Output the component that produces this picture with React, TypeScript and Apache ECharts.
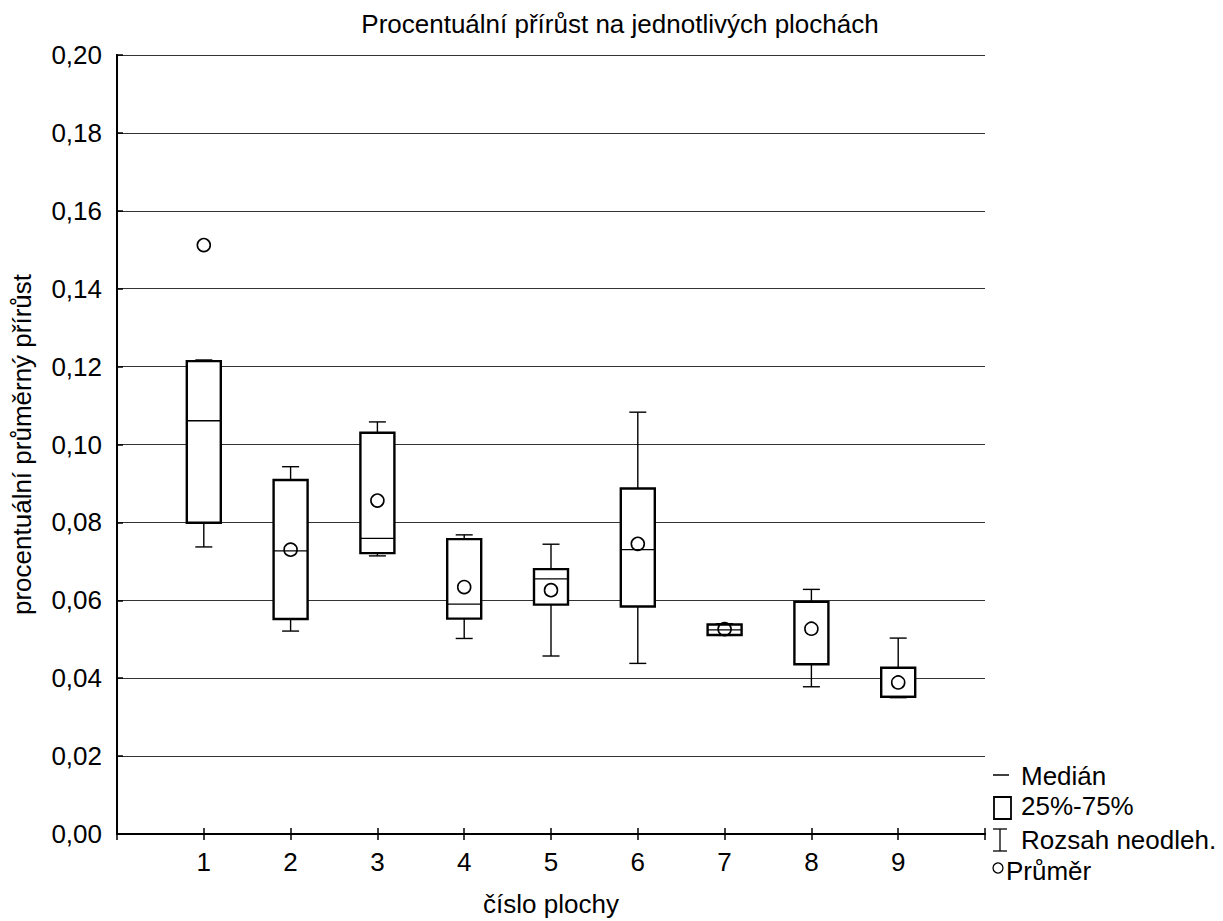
import React, { useEffect, useRef } from "react";
import * as echarts from "echarts";

const categories = [1, 2, 3, 4, 5, 6, 7, 8, 9];
const minValues = [0.0737, 0.0521, 0.0714, 0.0502, 0.0457, 0.0438, 0.0510, 0.0378, 0.0350];
const q1Values = [0.0799, 0.0552, 0.0721, 0.0553, 0.0589, 0.0584, 0.0511, 0.0436, 0.0352];
const medianValues = [0.1061, 0.0727, 0.0759, 0.0590, 0.0655, 0.0730, 0.0524, 0.0436, 0.0353];
const q3Values = [0.1214, 0.0909, 0.1030, 0.0757, 0.0680, 0.0887, 0.0538, 0.0596, 0.0427];
const maxValues = [0.1217, 0.0943, 0.1058, 0.0768, 0.0744, 0.1083, 0.0540, 0.0628, 0.0503];
const meanValues = [0.1512, 0.0730, 0.0856, 0.0634, 0.0626, 0.0745, 0.0526, 0.0527, 0.0389];

const titleText = "Procentuální přírůst na jednotlivých plochách";
const xName = "číslo plochy";
const yName = "procentuální průměrný přírůst";
const legendLabels = ["Medián", "25%-75%", "Rozsah neodleh.", "Průměr"];

const FONT = "'Liberation Sans', Arial, sans-serif";
const FS = 26;

export default function App() {
  const ref = useRef<HTMLDivElement>(null);
  useEffect(() => {
    if (!ref.current) return;
    const chart = echarts.init(ref.current, undefined, { renderer: "svg" });
    const boxData = categories.map((c, i) => [
      c,
      minValues[i],
      q1Values[i],
      medianValues[i],
      q3Values[i],
      maxValues[i],
    ]);
    const meanData = categories.map((c, i) => [c, meanValues[i]]);
    const option: any = {
      animation: false,
      backgroundColor: "#fff",
      textStyle: { fontFamily: FONT, color: "#000" },
      title: {
        text: titleText,
        left: 615,
        top: 6,
        textAlign: "center",
        textStyle: { fontFamily: FONT, fontSize: FS, fontWeight: "normal", color: "#000" },
      },
      grid: { left: 117, top: 55, right: 238, bottom: 87, containLabel: false },
      xAxis: [
        {
          type: "value",
          min: 0,
          max: 10,
          interval: 1,
          position: "bottom",
          axisLine: { show: true, lineStyle: { color: "#000", width: 2 } },
          axisTick: { show: true, inside: true, length: 6, lineStyle: { color: "#000", width: 1.5 } },
          axisLabel: {
            fontFamily: FONT,
            fontSize: FS,
            color: "#000",
            margin: 15,
            formatter: (v: number) => (categories.indexOf(v) >= 0 ? String(v) : ""),
          },
          splitLine: { show: false },
        },
        {
          type: "value",
          min: 0,
          max: 10,
          interval: 1,
          position: "top",
          axisLine: { show: true, lineStyle: { color: "#000", width: 2 } },
          axisTick: { show: true, inside: true, length: 6, lineStyle: { color: "#000", width: 1.5 } },
          axisLabel: { show: false },
          splitLine: { show: false },
        },
      ],
      yAxis: [
        {
          type: "value",
          min: 0,
          max: 0.2,
          interval: 0.02,
          position: "left",
          name: yName,
          nameLocation: "middle",
          nameGap: 82,
          nameTextStyle: { fontFamily: FONT, fontSize: FS, color: "#000" },
          axisLine: { show: true, lineStyle: { color: "#000", width: 2 } },
          axisTick: { show: true, inside: true, length: 6, lineStyle: { color: "#000", width: 1.5 } },
          axisLabel: {
            fontFamily: FONT,
            fontSize: FS,
            color: "#000",
            margin: 15,
            formatter: (v: number) => v.toFixed(2).replace(".", ","),
          },
          splitLine: { show: true, lineStyle: { color: "#333", width: 1 } },
        },
        {
          type: "value",
          min: 0,
          max: 0.2,
          interval: 0.02,
          position: "right",
          axisLine: { show: true, lineStyle: { color: "#000", width: 2 } },
          axisTick: { show: false },
          axisLabel: { show: false },
          splitLine: { show: false },
        },
      ],
      series: [
        {
          type: "custom",
          xAxisIndex: 0,
          yAxisIndex: 0,
          data: boxData,
          encode: { x: 0, y: [1, 2, 3, 4, 5] },
          renderItem: (params: any, api: any) => {
            const x = api.value(0);
            const pMin = api.coord([x, api.value(1)]);
            const pQ1 = api.coord([x, api.value(2)]);
            const pMed = api.coord([x, api.value(3)]);
            const pQ3 = api.coord([x, api.value(4)]);
            const pMax = api.coord([x, api.value(5)]);
            const cx = pMin[0];
            const bw = 34;
            const cw = 17;
            const thin = { stroke: "#000", lineWidth: 1.4, fill: null };
            return {
              type: "group",
              children: [
                { type: "line", shape: { x1: cx, y1: pMax[1], x2: cx, y2: pQ3[1] }, style: thin },
                { type: "line", shape: { x1: cx, y1: pQ1[1], x2: cx, y2: pMin[1] }, style: thin },
                { type: "line", shape: { x1: cx - cw / 2, y1: pMax[1], x2: cx + cw / 2, y2: pMax[1] }, style: thin },
                { type: "line", shape: { x1: cx - cw / 2, y1: pMin[1], x2: cx + cw / 2, y2: pMin[1] }, style: thin },
                {
                  type: "rect",
                  shape: { x: cx - bw / 2, y: pQ3[1], width: bw, height: pQ1[1] - pQ3[1] },
                  style: { fill: "#fff", stroke: "#000", lineWidth: 2.4 },
                },
                { type: "line", shape: { x1: cx - bw / 2, y1: pMed[1], x2: cx + bw / 2, y2: pMed[1] }, style: { stroke: "#000", lineWidth: 1.3 } },
              ],
            };
          },
          z: 3,
        },
        {
          type: "scatter",
          xAxisIndex: 0,
          yAxisIndex: 0,
          data: meanData,
          symbol: "circle",
          symbolSize: 13,
          itemStyle: { color: "rgba(255,255,255,0)", borderColor: "#000", borderWidth: 1.6, opacity: 1 },
          z: 5,
        },
      ],
      graphic: [
        { type: "text", x: 551, y: 904, style: { text: xName, font: `${FS}px ${FONT}`, fill: "#000", textAlign: "center", textVerticalAlign: "middle" } },
        { type: "line", shape: { x1: 993, y1: 775, x2: 1009, y2: 775 }, style: { stroke: "#000", lineWidth: 1.5 } },
        { type: "text", x: 1021, y: 776, style: { text: legendLabels[0], font: `${FS}px ${FONT}`, fill: "#000", textVerticalAlign: "middle" } },
        { type: "rect", shape: { x: 994, y: 797, width: 17, height: 22 }, style: { fill: "#fff", stroke: "#000", lineWidth: 1.8 } },
        { type: "text", x: 1021, y: 806, style: { text: legendLabels[1], font: `${FS}px ${FONT}`, fill: "#000", textVerticalAlign: "middle" } },
        { type: "line", shape: { x1: 993, y1: 829, x2: 1007, y2: 829 }, style: { stroke: "#000", lineWidth: 1.3 } },
        { type: "line", shape: { x1: 1000, y1: 829, x2: 1000, y2: 851 }, style: { stroke: "#000", lineWidth: 1.3 } },
        { type: "line", shape: { x1: 993, y1: 851, x2: 1007, y2: 851 }, style: { stroke: "#000", lineWidth: 1.3 } },
        { type: "text", x: 1021, y: 840, style: { text: legendLabels[2], font: `${FS}px ${FONT}`, fill: "#000", textVerticalAlign: "middle" } },
        { type: "circle", shape: { cx: 998, cy: 868, r: 5 }, style: { fill: "#fff", stroke: "#000", lineWidth: 1.3 } },
        { type: "text", x: 1006, y: 871, style: { text: legendLabels[3], font: `${FS}px ${FONT}`, fill: "#000", textVerticalAlign: "middle" } },
      ],
    };
    chart.setOption(option);
    return () => chart.dispose();
  }, []);
  return <div ref={ref} style={{ width: 1223, height: 921, position: "absolute", left: 0, top: 0 }} />;
}
